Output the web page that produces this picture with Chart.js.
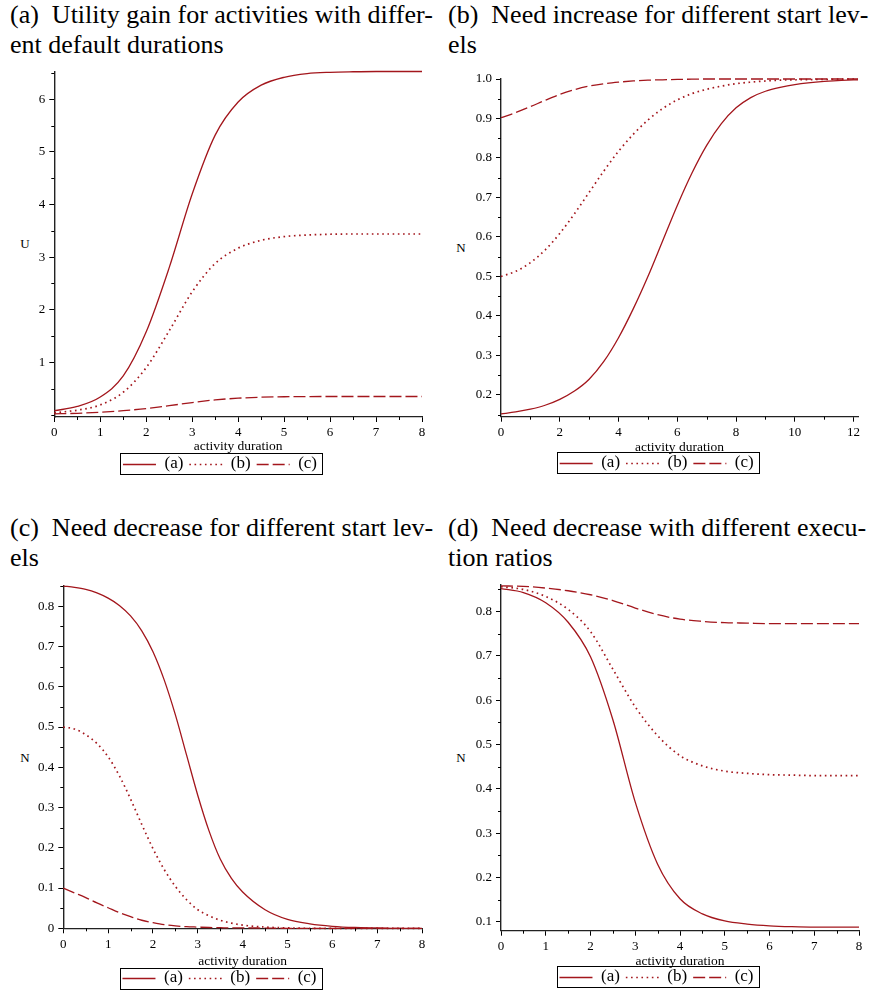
<!DOCTYPE html>
<html><head><meta charset="utf-8">
<script src="https://cdn.jsdelivr.net/npm/chart.js@4/dist/chart.umd.min.js"></script>
<style>
html,body{margin:0;padding:0;background:#fff;}
body{width:869px;height:994px;position:relative;overflow:hidden;font-family:"Liberation Serif","Times New Roman",serif;color:#000;}
.ttl{position:absolute;font-size:26px;line-height:30px;}
.ttl div{white-space:nowrap;}
.ttl .l1{text-align:justify;text-align-last:justify;}
.ylab{position:absolute;font-size:13px;line-height:13px;transform:translate(-50%,-50%);}
canvas{position:absolute;}
</style></head><body>
<div class="ttl" style="left:10px;top:0px;width:420px"><div class="l1">(a)&ensp;Utility gain for activities with differ-</div><div>ent default durations</div></div>
<div class="ttl" style="left:448px;top:0px;width:416px"><div class="l1">(b)&ensp;Need increase for different start lev-</div><div>els</div></div>
<div class="ttl" style="left:10px;top:513px;width:420px"><div class="l1">(c)&ensp;Need decrease for different start lev-</div><div>els</div></div>
<div class="ttl" style="left:448px;top:513px;width:413px"><div class="l1">(d)&ensp;Need decrease with different execu-</div><div>tion ratios</div></div>
<div class="ylab" style="left:25px;top:243px">U</div>
<div class="ylab" style="left:461px;top:247px">N</div>
<div class="ylab" style="left:25px;top:757px">N</div>
<div class="ylab" style="left:461px;top:757px">N</div>
<canvas id="ca"></canvas><canvas id="cb"></canvas><canvas id="cc"></canvas><canvas id="cd"></canvas>
<script>
// ---------- data ----------
const seriesLabels = ['(a)', '(b)', '(c)'];
const xTitle = 'activity duration';

// (a) Utility gain
const aX      = [0,0.5,1,1.5,2,2.5,3,3.5,4,4.5,5,5.5,6,6.5,7,7.5,8];
const aSolid  = [0.08,0.16,0.34,0.74,1.58,2.8,4.2,5.32,5.95,6.27,6.42,6.49,6.515,6.525,6.53,6.53,6.53];
const aDotted = [0.04,0.09,0.19,0.43,0.9,1.6,2.34,2.88,3.17,3.32,3.39,3.42,3.435,3.44,3.44,3.44,3.44];
const aDashed = [0.02,0.03,0.05,0.08,0.12,0.175,0.235,0.285,0.318,0.336,0.345,0.349,0.35,0.35,0.35,0.35,0.35];

// (b) Need increase
const bX      = [0,0.5,1,1.5,2,2.5,3,3.5,4,4.5,5,5.5,6,6.5,7,7.5,8,8.5,9,9.5,10,11,12,12.15];
const bSolid  = [0.152,0.157,0.164,0.174,0.189,0.21,0.24,0.285,0.345,0.418,0.5,0.59,0.68,0.762,0.832,0.887,0.927,0.953,0.969,0.979,0.986,0.994,0.998,0.998];
const bDotted = [0.5,0.513,0.535,0.567,0.609,0.659,0.713,0.767,0.817,0.86,0.896,0.925,0.947,0.963,0.974,0.982,0.988,0.992,0.995,0.997,0.998,0.999,1.0,1.0];
const bDashed = [0.902,0.915,0.93,0.946,0.961,0.973,0.982,0.988,0.992,0.995,0.997,0.998,0.999,0.9995,1,1,1,1,1,1,1,1,1,1];

// (c) Need decrease, start levels
const cX      = [0,0.25,0.5,0.75,1,1.25,1.5,1.75,2,2.25,2.5,2.75,3,3.25,3.5,3.75,4,4.5,5,5.5,6,6.5,7,7.5,8];
const cSolid  = [0.85,0.847,0.842,0.833,0.82,0.802,0.776,0.739,0.687,0.617,0.53,0.43,0.33,0.242,0.172,0.124,0.09,0.046,0.022,0.011,0.005,0.002,0.001,0,0];
const cDotted = [0.5,0.495,0.481,0.459,0.426,0.379,0.321,0.258,0.198,0.146,0.104,0.071,0.046,0.031,0.02,0.013,0.008,0.003,0.001,0,0,0,0,0,0];
const cDashed = [0.1,0.088,0.076,0.063,0.051,0.039,0.029,0.02,0.014,0.009,0.006,0.004,0.003,0.002,0.0015,0.001,0.001,0.0005,0,0,0,0,0,0,0];

// (d) Need decrease, execution ratios
const dX      = [0,0.5,1,1.5,2,2.5,3,3.5,4,4.5,5,5.5,6,6.5,7,7.5,8];
const dSolid  = [0.852,0.843,0.82,0.776,0.698,0.556,0.37,0.23,0.152,0.118,0.102,0.095,0.091,0.089,0.088,0.088,0.088];
const dDotted = [0.856,0.85,0.834,0.805,0.755,0.67,0.585,0.52,0.475,0.452,0.44,0.435,0.432,0.431,0.43,0.43,0.43];
const dDashed = [0.858,0.857,0.853,0.847,0.838,0.825,0.808,0.793,0.783,0.778,0.775,0.774,0.773,0.773,0.773,0.773,0.773];

// ---------- styling ----------
const SERIF = "'Liberation Serif','Times New Roman',serif";
const COLOR = '#a3161c';
const lineStyles = [
  {borderDash: [], borderWidth: 1.3},
  {borderDash: [1.6, 3.6], borderWidth: 1.7},
  {borderDash: [12, 4], borderWidth: 1.3}
];
const LEG_FONT = 17, LEG_PAD = 6, LEG_BOX = 33;
const LEG_CENTER_OFF = LEG_PAD + LEG_FONT / 2;

const minorPlugin = {
  id: 'decor',
  afterDraw(chart) {
    const o = chart.options.plugins.decor;
    const ctx = chart.ctx, ca = chart.chartArea;
    ctx.save();
    ctx.strokeStyle = '#000'; ctx.lineWidth = 1; ctx.setLineDash([]);
    const minor = (scale, step, major, horiz) => {
      const r = Math.round(major / step);
      const k0 = Math.ceil(scale.min / step - 1e-9), k1 = Math.floor(scale.max / step + 1e-9);
      for (let k = k0; k <= k1; k++) {
        const v = k * step;
        const isMajor = (k % r === 0) && !(o.hideY || []).some(h => horiz ? false : Math.abs(h - v) < 1e-9);
        if (isMajor) continue;
        const p = Math.round(scale.getPixelForValue(v)) + 0.5;
        ctx.beginPath();
        if (horiz) { ctx.moveTo(p, ca.bottom); ctx.lineTo(p, ca.bottom + 3); }
        else { ctx.moveTo(ca.left - 3, p); ctx.lineTo(ca.left, p); }
        ctx.stroke();
      }
    };
    minor(chart.scales.x, o.xMinor, o.xStep, true);
    minor(chart.scales.y, o.yMinor, o.yStep, false);
    // legend samples + frame
    const hb = chart.legend.legendHitBoxes;
    chart.data.datasets.forEach((ds, i) => {
      const b = hb[i]; const y = Math.round(b.top + b.height / 2) + 0.5;
      ctx.save();
      ctx.strokeStyle = ds.borderColor; ctx.lineWidth = ds.borderWidth; ctx.setLineDash(ds.borderDash);
      ctx.beginPath(); ctx.moveTo(b.left, y); ctx.lineTo(b.left + LEG_BOX, y); ctx.stroke();
      ctx.restore();
    });
    const l = Math.min(...hb.map(b => b.left)) - 2.5;
    const r = Math.max(...hb.map(b => b.left + b.width)) + 5;
    const t = hb[0].top - 2, bt = hb[0].top + hb[0].height + 2;
    ctx.strokeStyle = '#000'; ctx.lineWidth = 1;
    ctx.strokeRect(Math.round(l) + 0.5, Math.round(t) + 0.5, Math.round(r - l), Math.round(bt - t));
    ctx.restore();
  }
};

function makePanel(p) {
  const cv = document.getElementById(p.id);
  const canvasTop = Math.floor(p.top - 14);
  const padTop = p.top - canvasTop;
  const legendTop = p.legC - LEG_CENTER_OFF;
  const xH = legendTop - p.bottom;
  const needH = legendTop + (LEG_FONT + LEG_PAD + 10) - canvasTop;
  const H = Math.ceil(needH);
  const padBottom = H - needH;
  cv.width = p.W; cv.height = H;
  cv.style.left = p.L + 'px'; cv.style.top = canvasTop + 'px';
  cv.style.width = p.W + 'px'; cv.style.height = H + 'px';
  const datasets = p.series.map((ys, i) => Object.assign({
    label: seriesLabels[i],
    data: p.xs.map((x, j) => ({x: x, y: ys[j]})),
    borderColor: COLOR, pointRadius: 0, pointHoverRadius: 0,
    cubicInterpolationMode: 'monotone', fill: false, clip: 4
  }, lineStyles[i]));
  const tickFont = {family: SERIF, size: 13};
  new Chart(cv, {
    type: 'line',
    data: {datasets},
    plugins: [minorPlugin],
    options: {
      responsive: false, animation: false, devicePixelRatio: 1, events: [],
      layout: {padding: {left: p.pl, right: p.pr, top: padTop, bottom: padBottom}},
      plugins: {
        tooltip: {enabled: false},
        decor: {xMinor: p.xMinor, xStep: p.xStep, yMinor: p.yMinor, yStep: p.yStep, hideY: p.hideY},
        legend: {
          position: 'bottom',
          labels: {
            font: {family: SERIF, size: LEG_FONT}, color: '#000',
            boxWidth: LEG_BOX, boxHeight: 0, padding: LEG_PAD,
            generateLabels: (chart) => chart.data.datasets.map((ds, i) => ({
              text: ds.label, fillStyle: 'rgba(0,0,0,0)', strokeStyle: 'rgba(0,0,0,0)',
              lineWidth: 0, hidden: false, datasetIndex: i, fontColor: '#000'
            }))
          }
        }
      },
      scales: {
        x: {
          type: 'linear', min: p.xMin, max: p.xMax,
          border: {display: true, color: '#222', width: 1.2},
          grid: {drawOnChartArea: false, drawTicks: true, tickLength: 5, color: '#000', tickColor: '#000', tickWidth: 1},
          ticks: {stepSize: p.xStep, includeBounds: false, autoSkip: false, maxRotation: 0, padding: 3, color: '#000', font: tickFont,
                  callback: v => String(Math.round(v * 100) / 100)},
          title: {display: true, text: xTitle, color: '#000', font: {family: SERIF, size: 13.5, lineHeight: 1},
                  padding: {top: 0, bottom: (legendTop - p.titleC) - 6.75}},
          afterFit: s => { s.height = xH; }
        },
        y: {
          type: 'linear', min: p.yMin, max: p.yMax,
          border: {display: true, color: '#222', width: 1.4},
          grid: {drawOnChartArea: false, drawTicks: true, tickLength: 5, color: '#000', tickColor: '#000', tickWidth: 1},
          ticks: {stepSize: p.yStep, includeBounds: false, autoSkip: false, padding: 4, color: '#000', font: tickFont,
                  callback: p.fmtY},
          afterBuildTicks: s => { s.ticks = s.ticks.filter(t => !(p.hideY || []).some(h => Math.abs(h - t.value) < 1e-9)); },
          afterFit: s => { s.width = p.yW; }
        }
      }
    }
  });
}

const fmt1 = v => Math.abs(v) < 1e-9 ? '0' : v.toFixed(1);
makePanel({id: 'ca', L: 0, W: 440, pl: 18, pr: 18, yW: 36.3, top: 71.5, bottom: 417, legC: 463.5, titleC: 446.5,
  xs: aX, series: [aSolid, aDotted, aDashed], xMin: 0, xMax: 8, xStep: 1, xMinor: 0.5,
  yMin: -0.04, yMax: 6.53, yStep: 1, yMinor: 0.5, hideY: [0], fmtY: v => String(Math.round(v))});
makePanel({id: 'cb', L: 435, W: 434, pl: 20.4, pr: 11, yW: 45.6, top: 79, bottom: 416.7, legC: 462.5, titleC: 447,
  xs: bX, series: [bSolid, bDotted, bDashed], xMin: 0, xMax: 12.15, xStep: 2, xMinor: 1,
  yMin: 0.145, yMax: 1.0, yStep: 0.1, yMinor: 0.05, hideY: [], fmtY: fmt1});
makePanel({id: 'cc', L: 0, W: 440, pl: 17, pr: 18, yW: 46.3, top: 585.7, bottom: 928.3, legC: 978, titleC: 961.5,
  xs: cX, series: [cSolid, cDotted, cDashed], xMin: 0, xMax: 8, xStep: 1, xMinor: 0.5,
  yMin: 0, yMax: 0.851, yStep: 0.1, yMinor: 0.05, hideY: [], fmtY: fmt1});
makePanel({id: 'cd', L: 435, W: 434, pl: 19, pr: 10, yW: 47, top: 585, bottom: 930.7, legC: 976.5, titleC: 961.5,
  xs: dX, series: [dSolid, dDotted, dDashed], xMin: 0, xMax: 8, xStep: 1, xMinor: 0.5,
  yMin: 0.08, yMax: 0.86, yStep: 0.1, yMinor: 0.05, hideY: [], fmtY: fmt1});
</script>
</body></html>
